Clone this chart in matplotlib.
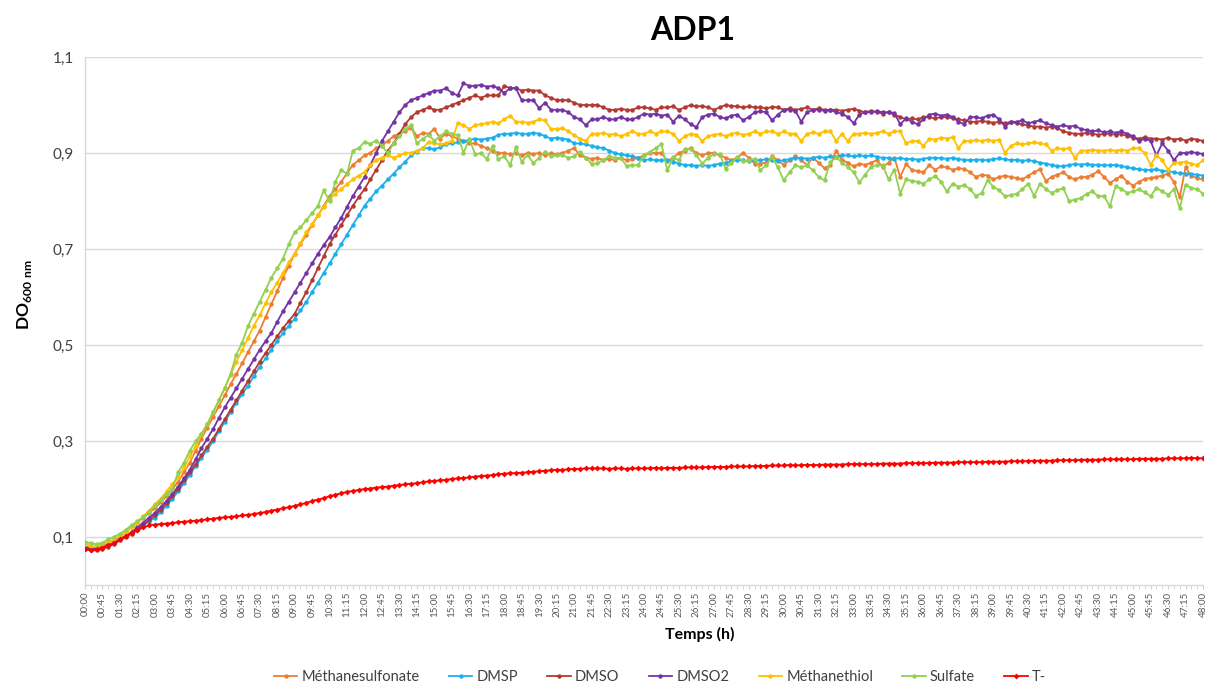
import numpy as np
import matplotlib
matplotlib.use("Agg")
import matplotlib.pyplot as plt
from matplotlib.ticker import FixedLocator, MultipleLocator

# Optical density (DO 600 nm) of ADP1 cultures, one reading every 15 min over 48 h
methanesulfonate = [
    0.080, 0.078, 0.078, 0.082, 0.088, 0.093, 0.100, 0.110, 0.120, 0.130, 0.140, 0.150,
    0.160, 0.172, 0.185, 0.200, 0.215, 0.235, 0.255, 0.280, 0.305, 0.328, 0.350, 0.373,
    0.395, 0.418, 0.440, 0.462, 0.485, 0.508, 0.530, 0.558, 0.585, 0.612, 0.640, 0.665,
    0.690, 0.710, 0.730, 0.750, 0.770, 0.790, 0.810, 0.825, 0.840, 0.858, 0.875, 0.885,
    0.895, 0.900, 0.910, 0.915, 0.925, 0.935, 0.940, 0.945, 0.953, 0.935, 0.942, 0.940,
    0.950, 0.930, 0.940, 0.935, 0.930, 0.925, 0.920, 0.920, 0.915, 0.910, 0.905, 0.900,
    0.900, 0.897, 0.900, 0.895, 0.900, 0.898, 0.900, 0.895, 0.900, 0.897, 0.900, 0.905,
    0.910, 0.895, 0.890, 0.888, 0.890, 0.885, 0.888, 0.885, 0.890, 0.885, 0.887, 0.890,
    0.895, 0.900, 0.900, 0.900, 0.883, 0.890, 0.900, 0.905, 0.910, 0.900, 0.895, 0.900,
    0.900, 0.895, 0.890, 0.885, 0.890, 0.900, 0.890, 0.878, 0.878, 0.880, 0.893, 0.885,
    0.875, 0.885, 0.893, 0.885, 0.875, 0.890, 0.880, 0.868, 0.875, 0.905, 0.885, 0.880,
    0.872, 0.878, 0.875, 0.880, 0.885, 0.870, 0.880, 0.890, 0.850, 0.877, 0.865, 0.862,
    0.860, 0.875, 0.865, 0.872, 0.870, 0.865, 0.868, 0.867, 0.860, 0.850, 0.855, 0.853,
    0.845, 0.850, 0.853, 0.850, 0.848, 0.845, 0.853, 0.860, 0.866, 0.842, 0.850, 0.855,
    0.860, 0.850, 0.845, 0.850, 0.850, 0.855, 0.862, 0.850, 0.838, 0.845, 0.853, 0.840,
    0.832, 0.840, 0.846, 0.848, 0.850, 0.853, 0.857, 0.840, 0.808, 0.870, 0.852, 0.848,
    0.845,
]

dmsp = [
    0.078, 0.075, 0.075, 0.078, 0.083, 0.088, 0.095, 0.102, 0.110, 0.117, 0.125, 0.132,
    0.140, 0.152, 0.165, 0.180, 0.195, 0.212, 0.230, 0.248, 0.265, 0.282, 0.300, 0.320,
    0.340, 0.360, 0.380, 0.398, 0.415, 0.435, 0.455, 0.472, 0.490, 0.508, 0.525, 0.540,
    0.555, 0.572, 0.590, 0.610, 0.630, 0.650, 0.670, 0.690, 0.710, 0.730, 0.750, 0.770,
    0.790, 0.805, 0.820, 0.832, 0.845, 0.857, 0.870, 0.882, 0.895, 0.903, 0.910, 0.910,
    0.908, 0.912, 0.918, 0.920, 0.922, 0.925, 0.927, 0.930, 0.928, 0.930, 0.932, 0.938,
    0.940, 0.940, 0.942, 0.940, 0.940, 0.942, 0.940, 0.935, 0.930, 0.932, 0.930, 0.928,
    0.920, 0.920, 0.918, 0.915, 0.912, 0.910, 0.905, 0.900, 0.897, 0.895, 0.893, 0.890,
    0.885, 0.887, 0.885, 0.885, 0.885, 0.882, 0.878, 0.875, 0.875, 0.873, 0.875, 0.873,
    0.875, 0.878, 0.880, 0.883, 0.885, 0.885, 0.883, 0.885, 0.885, 0.887, 0.885, 0.883,
    0.885, 0.887, 0.890, 0.890, 0.888, 0.890, 0.892, 0.890, 0.893, 0.892, 0.895, 0.895,
    0.893, 0.895, 0.893, 0.895, 0.892, 0.890, 0.890, 0.888, 0.890, 0.887, 0.888, 0.886,
    0.888, 0.890, 0.890, 0.889, 0.888, 0.890, 0.887, 0.886, 0.885, 0.886, 0.886, 0.885,
    0.887, 0.889, 0.887, 0.885, 0.886, 0.884, 0.885, 0.883, 0.880, 0.878, 0.875, 0.873,
    0.872, 0.875, 0.877, 0.876, 0.877, 0.875, 0.876, 0.874, 0.875, 0.875, 0.873, 0.870,
    0.868, 0.866, 0.865, 0.865, 0.866, 0.863, 0.862, 0.860, 0.858, 0.857, 0.856, 0.855,
    0.853,
]

dmso = [
    0.075, 0.073, 0.072, 0.075, 0.080, 0.085, 0.093, 0.100, 0.107, 0.115, 0.125, 0.135,
    0.145, 0.157, 0.170, 0.185, 0.200, 0.218, 0.235, 0.252, 0.270, 0.288, 0.305, 0.325,
    0.345, 0.365, 0.385, 0.405, 0.425, 0.445, 0.465, 0.483, 0.500, 0.518, 0.535, 0.550,
    0.565, 0.588, 0.610, 0.635, 0.660, 0.685, 0.710, 0.730, 0.750, 0.770, 0.790, 0.808,
    0.825, 0.845, 0.865, 0.885, 0.905, 0.920, 0.940, 0.960, 0.975, 0.985, 0.990, 0.995,
    0.990, 0.990, 0.995, 1.000, 1.005, 1.010, 1.015, 1.020, 1.015, 1.020, 1.020, 1.020,
    1.040, 1.035, 1.035, 1.030, 1.032, 1.030, 1.030, 1.020, 1.015, 1.010, 1.010, 1.010,
    1.005, 1.000, 1.000, 1.000, 1.000, 0.995, 0.990, 0.990, 0.992, 0.990, 0.990, 0.995,
    0.995, 0.993, 0.990, 0.995, 0.995, 0.997, 0.990, 0.995, 1.000, 0.997, 0.998, 0.995,
    0.990, 0.995, 1.000, 0.998, 0.997, 0.995, 0.997, 0.995, 0.995, 0.993, 0.996, 0.995,
    0.990, 0.993, 0.990, 0.992, 0.995, 0.990, 0.993, 0.990, 0.990, 0.990, 0.988, 0.990,
    0.992, 0.988, 0.985, 0.988, 0.985, 0.982, 0.985, 0.980, 0.975, 0.970, 0.972, 0.970,
    0.975, 0.975, 0.972, 0.975, 0.975, 0.972, 0.970, 0.968, 0.965, 0.965, 0.967, 0.965,
    0.963, 0.965, 0.962, 0.965, 0.962, 0.960, 0.957, 0.955, 0.955, 0.953, 0.955, 0.952,
    0.945, 0.942, 0.940, 0.940, 0.942, 0.940, 0.938, 0.940, 0.940, 0.938, 0.940, 0.935,
    0.932, 0.930, 0.933, 0.930, 0.930, 0.928, 0.932, 0.928, 0.930, 0.926, 0.930, 0.928,
    0.925,
]

dmso2 = [
    0.078, 0.075, 0.075, 0.078, 0.083, 0.087, 0.095, 0.102, 0.110, 0.120, 0.130, 0.140,
    0.150, 0.162, 0.175, 0.190, 0.205, 0.222, 0.240, 0.262, 0.285, 0.305, 0.325, 0.348,
    0.370, 0.390, 0.410, 0.430, 0.450, 0.470, 0.490, 0.508, 0.525, 0.548, 0.570, 0.590,
    0.610, 0.630, 0.650, 0.670, 0.690, 0.708, 0.725, 0.745, 0.765, 0.788, 0.810, 0.830,
    0.850, 0.875, 0.900, 0.925, 0.945, 0.965, 0.985, 1.000, 1.010, 1.015, 1.020, 1.025,
    1.030, 1.030, 1.035, 1.025, 1.020, 1.045, 1.040, 1.040, 1.042, 1.038, 1.040, 1.035,
    1.025, 1.035, 1.035, 1.010, 1.010, 1.010, 0.993, 1.005, 0.990, 0.990, 0.990, 0.985,
    0.975, 0.970, 0.958, 0.970, 0.970, 0.975, 0.970, 0.970, 0.975, 0.970, 0.970, 0.975,
    0.982, 0.980, 0.982, 0.978, 0.980, 0.965, 0.978, 0.970, 0.960, 0.954, 0.975, 0.980,
    0.982, 0.975, 0.972, 0.978, 0.980, 0.968, 0.975, 0.985, 0.987, 0.985, 0.968, 0.980,
    0.990, 0.990, 0.988, 0.965, 0.985, 0.990, 0.990, 0.988, 0.990, 0.985, 0.982, 0.975,
    0.962, 0.980, 0.985, 0.985, 0.987, 0.985, 0.985, 0.983, 0.960, 0.972, 0.965, 0.960,
    0.970, 0.980, 0.982, 0.978, 0.980, 0.975, 0.965, 0.960, 0.975, 0.975, 0.972, 0.978,
    0.980, 0.970, 0.955, 0.965, 0.965, 0.968, 0.962, 0.965, 0.968, 0.962, 0.958, 0.955,
    0.958, 0.955, 0.957, 0.950, 0.948, 0.945, 0.947, 0.943, 0.945, 0.942, 0.945, 0.940,
    0.935, 0.925, 0.930, 0.925, 0.895, 0.920, 0.905, 0.885, 0.900, 0.900, 0.902, 0.900,
    0.898,
]

methanethiol = [
    0.085, 0.082, 0.082, 0.085, 0.090, 0.095, 0.102, 0.110, 0.120, 0.130, 0.143, 0.155,
    0.168, 0.180, 0.195, 0.210, 0.225, 0.245, 0.268, 0.290, 0.315, 0.335, 0.360, 0.385,
    0.410, 0.438, 0.465, 0.490, 0.515, 0.540, 0.562, 0.587, 0.610, 0.630, 0.650, 0.672,
    0.690, 0.712, 0.735, 0.752, 0.770, 0.788, 0.805, 0.815, 0.825, 0.835, 0.845, 0.853,
    0.860, 0.875, 0.885, 0.890, 0.895, 0.890, 0.895, 0.900, 0.900, 0.905, 0.910, 0.923,
    0.920, 0.918, 0.920, 0.925, 0.962, 0.958, 0.950, 0.958, 0.960, 0.962, 0.965, 0.962,
    0.970, 0.978, 0.965, 0.965, 0.963, 0.965, 0.970, 0.968, 0.950, 0.950, 0.952, 0.945,
    0.937, 0.930, 0.925, 0.940, 0.940, 0.942, 0.938, 0.940, 0.935, 0.940, 0.945, 0.940,
    0.940, 0.945, 0.940, 0.945, 0.945, 0.940, 0.925, 0.935, 0.940, 0.938, 0.925, 0.935,
    0.938, 0.940, 0.935, 0.940, 0.942, 0.938, 0.940, 0.945, 0.940, 0.945, 0.945, 0.940,
    0.945, 0.940, 0.940, 0.925, 0.940, 0.943, 0.940, 0.945, 0.945, 0.925, 0.940, 0.925,
    0.940, 0.940, 0.942, 0.940, 0.942, 0.945, 0.940, 0.945, 0.945, 0.920, 0.925, 0.925,
    0.915, 0.930, 0.928, 0.932, 0.930, 0.933, 0.910, 0.925, 0.925, 0.927, 0.925, 0.928,
    0.925, 0.928, 0.900, 0.915, 0.920, 0.918, 0.920, 0.922, 0.920, 0.918, 0.905, 0.910,
    0.908, 0.910, 0.890, 0.905, 0.905, 0.907, 0.905, 0.905, 0.906, 0.905, 0.907, 0.905,
    0.910, 0.910, 0.900, 0.875, 0.895, 0.885, 0.865, 0.880, 0.880, 0.882, 0.878, 0.875,
    0.885,
]

sulfate = [
    0.090, 0.087, 0.085, 0.088, 0.095, 0.100, 0.107, 0.115, 0.125, 0.133, 0.142, 0.152,
    0.165, 0.177, 0.190, 0.200, 0.235, 0.255, 0.280, 0.300, 0.315, 0.335, 0.360, 0.385,
    0.410, 0.440, 0.480, 0.505, 0.540, 0.565, 0.590, 0.615, 0.640, 0.660, 0.680, 0.710,
    0.735, 0.745, 0.760, 0.775, 0.790, 0.822, 0.800, 0.840, 0.864, 0.857, 0.905, 0.910,
    0.923, 0.919, 0.926, 0.915, 0.900, 0.920, 0.935, 0.950, 0.958, 0.920, 0.930, 0.937,
    0.926, 0.935, 0.945, 0.940, 0.937, 0.900, 0.930, 0.897, 0.900, 0.887, 0.915, 0.887,
    0.893, 0.875, 0.912, 0.882, 0.896, 0.879, 0.890, 0.903, 0.893, 0.895, 0.896, 0.890,
    0.893, 0.903, 0.890, 0.877, 0.879, 0.885, 0.893, 0.890, 0.890, 0.873, 0.875, 0.875,
    0.896, 0.902, 0.910, 0.919, 0.864, 0.891, 0.885, 0.909, 0.909, 0.895, 0.878, 0.890,
    0.898, 0.898, 0.867, 0.880, 0.891, 0.884, 0.885, 0.888, 0.864, 0.875, 0.891, 0.870,
    0.843, 0.860, 0.874, 0.870, 0.874, 0.864, 0.850, 0.843, 0.881, 0.891, 0.880, 0.871,
    0.860, 0.839, 0.855, 0.871, 0.875, 0.874, 0.845, 0.865, 0.815, 0.845, 0.842, 0.840,
    0.836, 0.845, 0.852, 0.840, 0.820, 0.836, 0.830, 0.833, 0.825, 0.810, 0.817, 0.843,
    0.830, 0.822, 0.810, 0.812, 0.815, 0.825, 0.836, 0.810, 0.836, 0.825, 0.817, 0.822,
    0.827, 0.800, 0.803, 0.806, 0.815, 0.820, 0.810, 0.810, 0.789, 0.831, 0.825, 0.817,
    0.820, 0.824, 0.818, 0.810, 0.827, 0.820, 0.813, 0.824, 0.785, 0.834, 0.827, 0.825,
    0.815,
]

t_minus = [
    0.075, 0.072, 0.074, 0.078, 0.083, 0.088, 0.095, 0.102, 0.108, 0.114, 0.120, 0.124,
    0.126, 0.127, 0.128, 0.129, 0.131, 0.132, 0.133, 0.134, 0.135, 0.137, 0.138, 0.140,
    0.141, 0.142, 0.143, 0.145, 0.146, 0.148, 0.150, 0.152, 0.155, 0.157, 0.160, 0.162,
    0.165, 0.168, 0.171, 0.175, 0.178, 0.181, 0.185, 0.188, 0.191, 0.194, 0.196, 0.198,
    0.200, 0.201, 0.203, 0.204, 0.205, 0.207, 0.208, 0.210, 0.211, 0.212, 0.214, 0.216,
    0.217, 0.218, 0.219, 0.221, 0.222, 0.223, 0.224, 0.226, 0.227, 0.228, 0.229, 0.231,
    0.232, 0.233, 0.233, 0.234, 0.235, 0.236, 0.237, 0.238, 0.239, 0.240, 0.240, 0.241,
    0.242, 0.242, 0.243, 0.243, 0.243, 0.243, 0.242, 0.243, 0.243, 0.242, 0.243, 0.243,
    0.243, 0.243, 0.244, 0.243, 0.244, 0.244, 0.244, 0.245, 0.245, 0.245, 0.245, 0.246,
    0.246, 0.246, 0.246, 0.247, 0.247, 0.247, 0.247, 0.248, 0.248, 0.248, 0.249, 0.249,
    0.249, 0.250, 0.249, 0.250, 0.250, 0.250, 0.250, 0.251, 0.251, 0.251, 0.251, 0.252,
    0.252, 0.252, 0.252, 0.252, 0.252, 0.253, 0.253, 0.253, 0.253, 0.254, 0.254, 0.254,
    0.254, 0.254, 0.255, 0.255, 0.255, 0.255, 0.256, 0.256, 0.256, 0.256, 0.256, 0.257,
    0.257, 0.257, 0.257, 0.258, 0.258, 0.258, 0.258, 0.259, 0.259, 0.259, 0.259, 0.260,
    0.260, 0.260, 0.260, 0.261, 0.261, 0.261, 0.261, 0.262, 0.262, 0.262, 0.262, 0.262,
    0.262, 0.263, 0.263, 0.263, 0.263, 0.263, 0.264, 0.264, 0.264, 0.264, 0.265, 0.264,
    0.264,
]

series_names = ["Méthanesulfonate", "DMSP", "DMSO", "DMSO2", "Méthanethiol", "Sulfate", "T-"]
series_values = [methanesulfonate, dmsp, dmso, dmso2, methanethiol, sulfate, t_minus]
series_colors = ["#ED7D31", "#1AB0EC", "#B23A30", "#7434A4", "#FFC000", "#92D050", "#FF0000"]
series_markers = ["o", "o", "o", "o", "o", "o", "D"]

y_ticks = [0.1, 0.3, 0.5, 0.7, 0.9, 1.1]

plt.rcParams["font.family"] = ["Lato", "DejaVu Sans"]
plt.rcParams["mathtext.fontset"] = "custom"
plt.rcParams["mathtext.rm"] = "Lato"
plt.rcParams["mathtext.bf"] = "Lato:bold"

n_points = len(t_minus)
hours = np.arange(n_points) * 0.25

fig = plt.figure(figsize=(12.09, 6.86), dpi=100)
ax = fig.add_axes([85 / 1209, 1 - 585 / 686, (1203 - 85) / 1209, (585 - 57) / 686])

for name, vals, col, mk in zip(series_names, series_values, series_colors, series_markers):
    ax.plot(hours, vals, color=col, lw=1.3, marker=mk,
            markersize=3.2 if mk == "o" else 3.0, markeredgewidth=0,
            label=name, zorder=3)

ax.set_xlim(0, 48)
ax.set_ylim(0, 1.1)

ax.set_yticks(y_ticks)
ax.set_yticklabels([f"{v:.1f}".replace(".", ",") for v in y_ticks],
                   fontsize=11, color="#404040")
ax.tick_params(axis="y", length=0, pad=8)

label_hours = hours[::3]
ax.xaxis.set_major_locator(FixedLocator(label_hours))
ax.set_xticklabels([f"{int(h):02d}:{int(round((h % 1) * 60)):02d}" for h in label_hours],
                   rotation=90, fontsize=7, color="#595959")
ax.xaxis.set_minor_locator(MultipleLocator(0.25))
ax.tick_params(axis="x", which="major", length=3, color="#d0d0d0", pad=2)
ax.tick_params(axis="x", which="minor", length=3, color="#d0d0d0")

ax.grid(axis="y", color="#d9d9d9", lw=1.0, zorder=0)
ax.set_axisbelow(True)
for side in ["top", "right"]:
    ax.spines[side].set_visible(False)
ax.spines["left"].set_color("#d9d9d9")
ax.spines["bottom"].set_color("#d9d9d9")
ax.spines["left"].set_linewidth(1.0)
ax.spines["bottom"].set_linewidth(1.0)

fig.text(693 / 1209, 1 - 31 / 686, "ADP1", ha="center", va="center",
         fontsize=23, fontweight="bold", color="#000000")
fig.text(24 / 1209, 1 - 295 / 686, r"$\mathbf{DO}_{\mathbf{600\ nm}}$",
         rotation=90, ha="center", va="center", fontsize=12.5, color="#000000")
fig.text(700 / 1209, 1 - 634 / 686, "Temps (h)", ha="center", va="center",
         fontsize=11.5, fontweight="bold", color="#000000")

fig.legend(loc="center", bbox_to_anchor=(660 / 1209, 1 - 677 / 686), ncol=7,
           frameon=False, fontsize=10.5, handlelength=1.6, handletextpad=0.3,
           columnspacing=2.0, labelcolor="#404040")

fig.savefig("out.png", dpi=100, facecolor="white")
